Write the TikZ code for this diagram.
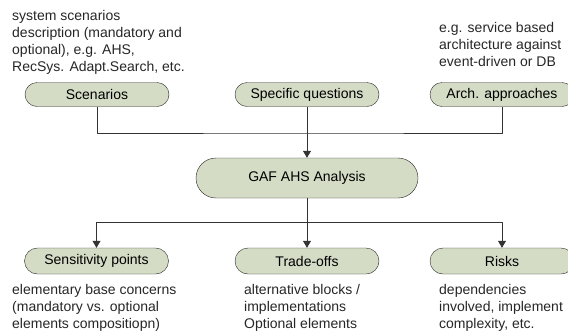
\documentclass[tikz,border=0pt]{standalone}
\usepackage{fontspec}
\setmainfont{Liberation Sans}
\usetikzlibrary{arrows.meta}
\definecolor{boxfill}{RGB}{212,220,198}
\begin{document}
\begin{tikzpicture}[x=1pt,y=-1pt,line join=round,>={Triangle[length=7pt,width=8pt]},font=\fontsize{14}{17}\selectfont,
	box/.style={draw=black!85,fill=boxfill,rounded corners=12pt,minimum width=144pt,minimum height=24pt,inner sep=0pt},
	note/.style={anchor=north west,align=left,inner sep=0pt,text=black!85,execute at begin node=\strut},
	link/.style={draw=black!80,line width=0.8pt}]
	\useasboundingbox (0,0) rectangle (568,333);
	\clip (0,0) rectangle (568,333);
	\path
	(307,133) coordinate (join)
	(307,222) coordinate (split);
	\node[box] (scen) at (97,94.5) {Scenarios};
	\node[box] (quest) at (307,94.5) {Specific questions};
	\node[box] (arch) at (502,94.5) {Arch. approaches};
	\node[box,minimum width=222pt,minimum height=40pt,rounded corners=20pt] (gaf) at (307,178) {GAF AHS Analysis};
	\node[box,minimum height=26pt,rounded corners=13pt] (sens) at (96.5,261) {Sensitivity points};
	\node[box,minimum height=26pt,rounded corners=13pt] (trade) at (307,261) {Trade-offs};
	\node[box,minimum height=26pt,rounded corners=13pt] (risk) at (502,261) {Risks};
	\node[note] (scentxt) at (12,10.6) {system scenarios\\description (mandatory and\\optional), e.g. AHS,\\RecSys. Adapt.Search, etc.};
	\node[note] (archtxt) at (439,22) {e.g. service based\\architecture against\\event-driven or DB};
	\node[note] (senstxt) at (12,284) {elementary base concerns\\(mandatory vs. optional\\elements compositiopn)};
	\node[note] (tradetxt) at (244,284) {alternative blocks /\\implementations\\Optional elements};
	\node[note] (risktxt) at (439,284) {dependencies\\involved, implement\\complexity, etc.};
	\draw[link] (scen) |- (join) -| (arch);
	\draw[link,->] (quest) -- (gaf);
	\draw[link] (gaf) -- (split);
	\draw[link,->] (split) -| (sens);
	\draw[link,->] (split) -- (trade);
	\draw[link,->] (split) -| (risk);
\end{tikzpicture}
\end{document}
